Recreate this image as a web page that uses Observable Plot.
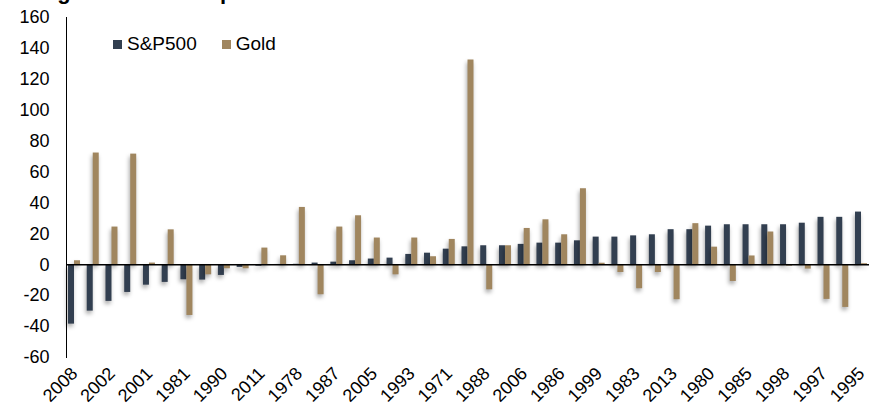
<!DOCTYPE html>
<html>
<head>
<meta charset="utf-8">
<script src="https://cdn.jsdelivr.net/npm/d3@7"></script>
<script src="https://cdn.jsdelivr.net/npm/@observablehq/plot@0.6"></script>
<style>
  html, body { margin: 0; padding: 0; background: #fff; overflow: hidden; }
  #wrap { position: relative; width: 869px; height: 412px; font-family: "Liberation Sans", Arial, sans-serif; }
  #title { position: absolute; left: -16px; top: -18.6px; font-size: 22px; line-height: 22px; font-weight: bold; white-space: nowrap; color: #000; }
  #legend { position: absolute; left: 113px; top: 33px; font-size: 19px; display: flex; align-items: center; color: #000; }
  #legend .sw { display: inline-block; width: 9px; height: 9px; margin-right: 5px; }
  #legend .item { display: flex; align-items: center; margin-right: 25px; }
  svg g[aria-label="bar"] { filter: drop-shadow(-1px 3px 2px rgba(0,0,0,0.35)); }
</style>
</head>
<body>
<div id="wrap">
  <div id="title">Ranking of the annual performance</div>
</div>
<script>
// Years ordered by S&P500 annual return (ascending)
const years = [2008, 1974, 2002, 1973, 2001, 1977, 1981, 2000, 1990, 1994, 2011, 2012, 1978, 1984, 1987, 2007, 2005, 1992, 1993, 2004, 1971, 1979, 1988, 1982, 2006, 2010, 1986, 1972, 1999, 1996, 1983, 1976, 2013, 2009, 1980, 1991, 1985, 2003, 1998, 1989, 1997, 1975, 1995];
// S&P500 annual return (%)
const sp500 = [-38.4, -30.0, -23.7, -17.9, -13.2, -11.4, -9.7, -9.9, -6.9, -1.7, -0.9, 0.2, 0.3, 1.1, 1.7, 2.6, 3.7, 4.3, 6.7, 7.5, 10.1, 11.6, 12.3, 12.3, 13.2, 14.0, 14.0, 15.5, 17.9, 17.9, 18.7, 19.4, 22.7, 22.7, 25.0, 25.9, 25.9, 25.9, 25.9, 26.9, 30.7, 30.7, 34.1];
// Gold annual return (%)
const gold = [2.6, 72.3, 24.4, 71.6, 1.1, 22.6, -32.8, -6.5, -2.6, -2.6, 10.8, 5.8, 37.1, -19.4, 24.4, 31.7, 17.3, -6.5, 17.3, 5.2, 16.4, 132.5, -16.2, 12.3, 23.5, 29.1, 19.4, 49.2, 1.0, -5.0, -15.5, -5.0, -22.6, 26.6, 11.4, -10.8, 5.7, 21.2, -0.9, -2.8, -22.4, -27.6, 0.7];
// y-axis tick values
const yTicks = [-60, -40, -20, 0, 20, 40, 60, 80, 100, 120, 140, 160];
// series names & colours
const seriesNames = ["S&P500", "Gold"];
const seriesColors = ["#323f50", "#a0865f"];

const labels = years.map(String);
const xTicks = labels.filter((_, i) => i % 2 === 0);
const data = labels.map((y, i) => ({year: y, sp: sp500[i], gold: gold[i]}));

const chart = Plot.plot({
  width: 869,
  height: 412,
  marginLeft: 66,
  marginRight: 0,
  marginTop: 17,
  marginBottom: 55,
  style: {fontFamily: "'Liberation Sans', Arial, sans-serif", fontSize: "18px", color: "#000", background: "transparent", overflow: "visible"},
  x: {domain: labels, paddingInner: 0.36, paddingOuter: 0.107, round: false, label: null, tickRotate: -45, tickSize: 0, tickPadding: 13, ticks: xTicks},
  y: {domain: [-60, 160], ticks: yTicks, tickFormat: d => String(d), tickSize: 0, tickPadding: 17, label: null, line: true},
  marks: [
    Plot.barY(data, {x: "year", y: "sp", fill: seriesColors[0], insetRight: 6}),
    Plot.barY(data, {x: "year", y: "gold", fill: seriesColors[1], insetLeft: 6}),
    Plot.ruleY([0], {stroke: "#000", strokeWidth: 1.5})
  ]
});
const wrap = document.getElementById("wrap");
wrap.appendChild(chart);
chart.style.position = "absolute";
chart.style.left = "0px";
chart.style.top = "0px";

const legend = document.createElement("div");
legend.id = "legend";
seriesNames.forEach((n, i) => {
  const it = document.createElement("span");
  it.className = "item";
  const sw = document.createElement("span");
  sw.className = "sw";
  sw.style.background = seriesColors[i];
  it.appendChild(sw);
  it.appendChild(document.createTextNode(n));
  legend.appendChild(it);
});
wrap.appendChild(legend);
</script>
</body>
</html>
